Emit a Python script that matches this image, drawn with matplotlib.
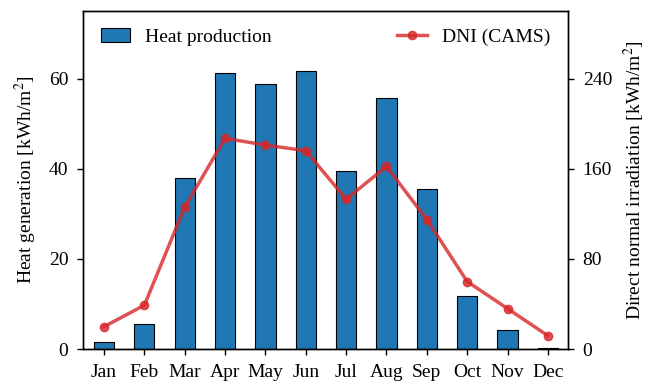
import matplotlib
matplotlib.use("Agg")
import matplotlib.pyplot as plt
import numpy as np

months = ["Jan", "Feb", "Mar", "Apr", "May", "Jun",
          "Jul", "Aug", "Sep", "Oct", "Nov", "Dec"]
heat = [1.6, 5.6, 38.0, 61.3, 58.8, 61.6, 39.6, 55.6, 35.6, 11.9, 4.3, 0.3]
dni = [20, 39, 126, 187, 181, 176, 133, 162, 115, 60, 36, 12]

plt.rcParams["font.family"] = ["Liberation Serif", "DejaVu Serif"]
plt.rcParams["font.size"] = 14
plt.rcParams["mathtext.fontset"] = "stix"

fig, ax = plt.subplots(figsize=(6.59, 3.88), dpi=100)
x = np.arange(len(months))
ax.bar(x, heat, width=0.5, color="#1f77b4", edgecolor="black",
       linewidth=0.8, label="Heat production")
ax.set_ylim(0, 75)
ax.set_yticks([0, 20, 40, 60])
ax.set_xlim(-0.52, 11.5)
ax.set_xticks(x)
ax.set_xticklabels(months)
ax.set_ylabel("Heat generation [kWh/m$^2$]", labelpad=7)

ax2 = ax.twinx()
ax2.plot(x, dni, color="#d62728", alpha=0.8, linewidth=2.5,
         marker="o", markersize=6, label="DNI (CAMS)")
ax2.set_ylim(0, 300)
ax2.set_yticks([0, 80, 160, 240])
ax2.set_ylabel("Direct normal irradiation [kWh/m$^2$]", labelpad=7)

for a in (ax, ax2):
    a.tick_params(direction="out", length=4.5, width=1, pad=6)
    for s in a.spines.values():
        s.set_linewidth(1)

ax.legend(loc="upper left", frameon=False, handlelength=1.5)
ax2.legend(loc="upper right", frameon=False, handlelength=1.5)

fig.subplots_adjust(left=0.126, right=0.862, top=0.972, bottom=0.1)
fig.savefig("out.png", dpi=100)
